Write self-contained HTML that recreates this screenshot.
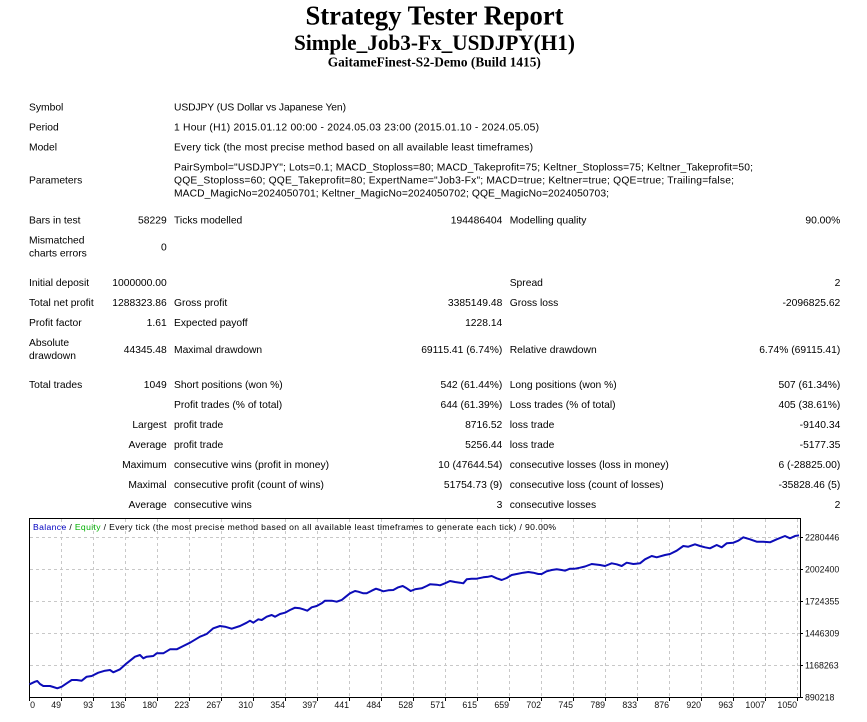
<!DOCTYPE html>
<html><head><meta charset="utf-8"><style>
html,body{margin:0;padding:0;background:#fff;}
svg{display:block;}
.t{font-family:"Liberation Sans",Arial,sans-serif;font-size:10.3px;fill:#000;}
.h{font-family:"Liberation Serif","Times New Roman",serif;font-weight:bold;fill:#000;}
.ax{font-family:"Liberation Sans",Arial,sans-serif;font-size:8.8px;fill:#111;}
</style></head><body>
<svg width="867" height="722" viewBox="0 0 867 722" xmlns="http://www.w3.org/2000/svg">
<rect width="867" height="722" fill="#fff"/>
<text class="h" x="434.5" y="24.5" font-size="27" text-anchor="middle" textLength="258" lengthAdjust="spacingAndGlyphs">Strategy Tester Report</text>
<text class="h" x="434.5" y="50" font-size="22" text-anchor="middle" textLength="281" lengthAdjust="spacingAndGlyphs">Simple_Job3-Fx_USDJPY(H1)</text>
<text class="h" x="434.3" y="66.7" font-size="13.5" text-anchor="middle" textLength="213" lengthAdjust="spacingAndGlyphs">GaitameFinest-S2-Demo (Build 1415)</text>

<g class="t">
<text x="29" y="110.5">Symbol</text>
<text x="174" y="110.5" textLength="172" lengthAdjust="spacing">USDJPY (US Dollar vs Japanese Yen)</text>
<text x="29" y="130.5">Period</text>
<text x="174" y="130.5" textLength="365" lengthAdjust="spacing">1 Hour (H1) 2015.01.12 00:00 - 2024.05.03 23:00 (2015.01.10 - 2024.05.05)</text>
<text x="29" y="150.5">Model</text>
<text x="174" y="150.5" textLength="359" lengthAdjust="spacing">Every tick (the most precise method based on all available least timeframes)</text>
<text x="29" y="183.7">Parameters</text>
<text x="174" y="170.7" textLength="579" lengthAdjust="spacing">PairSymbol="USDJPY"; Lots=0.1; MACD_Stoploss=80; MACD_Takeprofit=75; Keltner_Stoploss=75; Keltner_Takeprofit=50;</text>
<text x="174" y="183.7" textLength="560" lengthAdjust="spacing">QQE_Stoploss=60; QQE_Takeprofit=80; ExpertName="Job3-Fx"; MACD=true; Keltner=true; QQE=true; Trailing=false;</text>
<text x="174" y="196.7" textLength="435" lengthAdjust="spacing">MACD_MagicNo=2024050701; Keltner_MagicNo=2024050702; QQE_MagicNo=2024050703;</text>

<text x="29" y="223.7">Bars in test</text>
<text x="166.7" y="223.7" text-anchor="end">58229</text>
<text x="174" y="223.7">Ticks modelled</text>
<text x="502.3" y="223.7" text-anchor="end">194486404</text>
<text x="509.7" y="223.7">Modelling quality</text>
<text x="840.3" y="223.7" text-anchor="end">90.00%</text>

<text x="29" y="243.7">Mismatched</text>
<text x="29" y="256.7">charts errors</text>
<text x="166.7" y="250.4" text-anchor="end">0</text>

<text x="29" y="286">Initial deposit</text>
<text x="166.7" y="286" text-anchor="end">1000000.00</text>
<text x="509.7" y="286">Spread</text>
<text x="840.3" y="286" text-anchor="end">2</text>

<text x="29" y="305.8">Total net profit</text>
<text x="166.7" y="305.8" text-anchor="end">1288323.86</text>
<text x="174" y="305.8">Gross profit</text>
<text x="502.3" y="305.8" text-anchor="end">3385149.48</text>
<text x="509.7" y="305.8">Gross loss</text>
<text x="840.3" y="305.8" text-anchor="end">-2096825.62</text>

<text x="29" y="325.8">Profit factor</text>
<text x="166.7" y="325.8" text-anchor="end">1.61</text>
<text x="174" y="325.8">Expected payoff</text>
<text x="502.3" y="325.8" text-anchor="end">1228.14</text>

<text x="29" y="345.8">Absolute</text>
<text x="29" y="358.8">drawdown</text>
<text x="166.7" y="353" text-anchor="end">44345.48</text>
<text x="174" y="353">Maximal drawdown</text>
<text x="502.3" y="353" text-anchor="end">69115.41 (6.74%)</text>
<text x="509.7" y="353">Relative drawdown</text>
<text x="840.3" y="353" text-anchor="end">6.74% (69115.41)</text>

<text x="29" y="387.8">Total trades</text>
<text x="166.7" y="387.8" text-anchor="end">1049</text>
<text x="174" y="387.8">Short positions (won %)</text>
<text x="502.3" y="387.8" text-anchor="end">542 (61.44%)</text>
<text x="509.7" y="387.8">Long positions (won %)</text>
<text x="840.3" y="387.8" text-anchor="end">507 (61.34%)</text>

<text x="174" y="407.8">Profit trades (% of total)</text>
<text x="502.3" y="407.8" text-anchor="end">644 (61.39%)</text>
<text x="509.7" y="407.8">Loss trades (% of total)</text>
<text x="840.3" y="407.8" text-anchor="end">405 (38.61%)</text>

<text x="166.7" y="427.8" text-anchor="end">Largest</text>
<text x="174" y="427.8">profit trade</text>
<text x="502.3" y="427.8" text-anchor="end">8716.52</text>
<text x="509.7" y="427.8">loss trade</text>
<text x="840.3" y="427.8" text-anchor="end">-9140.34</text>

<text x="166.7" y="447.8" text-anchor="end">Average</text>
<text x="174" y="447.8">profit trade</text>
<text x="502.3" y="447.8" text-anchor="end">5256.44</text>
<text x="509.7" y="447.8">loss trade</text>
<text x="840.3" y="447.8" text-anchor="end">-5177.35</text>

<text x="166.7" y="467.8" text-anchor="end">Maximum</text>
<text x="174" y="467.8">consecutive wins (profit in money)</text>
<text x="502.3" y="467.8" text-anchor="end">10 (47644.54)</text>
<text x="509.7" y="467.8">consecutive losses (loss in money)</text>
<text x="840.3" y="467.8" text-anchor="end">6 (-28825.00)</text>

<text x="166.7" y="487.8" text-anchor="end">Maximal</text>
<text x="174" y="487.8">consecutive profit (count of wins)</text>
<text x="502.3" y="487.8" text-anchor="end">51754.73 (9)</text>
<text x="509.7" y="487.8">consecutive loss (count of losses)</text>
<text x="840.3" y="487.8" text-anchor="end">-35828.46 (5)</text>

<text x="166.7" y="507.8" text-anchor="end">Average</text>
<text x="174" y="507.8">consecutive wins</text>
<text x="502.3" y="507.8" text-anchor="end">3</text>
<text x="509.7" y="507.8">consecutive losses</text>
<text x="840.3" y="507.8" text-anchor="end">2</text>
</g>

<!-- chart -->
<g stroke="#c8c8c8" stroke-width="1" stroke-dasharray="3,3" fill="none">
<path d="M61.5,519V697M93.5,519V697M125.5,519V697M157.5,519V697M189.5,519V697M221.5,519V697M253.5,519V697M285.5,519V697M317.5,519V697M349.5,519V697M381.5,519V697M413.5,519V697M445.5,519V697M477.5,519V697M509.5,519V697M541.5,519V697M573.5,519V697M605.5,519V697M637.5,519V697M669.5,519V697M701.5,519V697M733.5,519V697M765.5,519V697M797.5,519V697"/>
<path d="M30,537.5H800M30,569.5H800M30,601.5H800M30,633.5H800M30,665.5H800"/>
</g>
<rect x="29.5" y="518.5" width="771" height="179" fill="none" stroke="#000" stroke-width="1"/>
<g stroke="#000" stroke-width="1">
<path d="M29.5,697V701M61.5,697V701M93.5,697V701M125.5,697V701M157.5,697V701M189.5,697V701M221.5,697V701M253.5,697V701M285.5,697V701M317.5,697V701M349.5,697V701M381.5,697V701M413.5,697V701M445.5,697V701M477.5,697V701M509.5,697V701M541.5,697V701M573.5,697V701M605.5,697V701M637.5,697V701M669.5,697V701M701.5,697V701M733.5,697V701M765.5,697V701M797.5,697V701"/>
<path d="M800,537.5H803M800,569.5H803M800,601.5H803M800,633.5H803M800,665.5H803M800,697.5H803"/>
</g>

<text x="33" y="530" style="font-family:'Liberation Sans',Arial,sans-serif;font-size:8.6px" textLength="523" lengthAdjust="spacing"><tspan fill="#0000c0">Balance</tspan><tspan fill="#000"> / </tspan><tspan fill="#00b000">Equity</tspan><tspan fill="#000"> / Every tick (the most precise method based on all available least timeframes to generate each tick) / 90.00%</tspan></text>

<path fill="none" stroke="#0c0cb8" stroke-width="2" stroke-linejoin="round" d="M29.5,684.3 L35,681.7 L37.3,681 L40,684 L43.3,686 L50,686 L53.3,687 L57.3,688.3 L61.7,686.7 L66.7,683.3 L71.7,680 L76.7,680 L81.7,680.7 L86.7,676.7 L91.7,676 L98.3,672.7 L105,670.7 L110,670 L113.3,672.3 L120,669.3 L126.7,663.3 L135,656.7 L140,655 L143.3,658.3 L146.7,656.7 L153.3,656 L156.7,653.3 L163.3,653.3 L170,649.3 L176.7,649.3 L183.3,646 L190,642.7 L200,636.7 L206.7,634 L213.3,628.3 L220,626 L225,626.7 L231.7,628.7 L240,626 L246.7,622.7 L250,620.7 L253.3,622.7 L258.3,619.3 L261.7,620 L266.7,616.7 L271.7,615 L275,616.7 L280,614 L285,612.7 L290,610 L295,607.7 L300,608.3 L303.3,609.3 L307.3,610.7 L311.7,607.3 L316.7,606 L321.7,603.3 L325,600.7 L331.7,600.7 L336.7,601.7 L341.7,600 L345,597.3 L350,593.3 L355,591 L358.3,591.7 L363.3,593.3 L366.7,593.3 L371.7,590.7 L376,588.7 L380,590 L383.3,591.3 L388.3,590.3 L393.3,590 L398.3,587.3 L402.7,586 L406.7,588.3 L410.7,591 L415,589.3 L421.7,588.3 L426.7,586 L430,584.3 L436.7,584.7 L440,585.3 L445,583.3 L450,581 L455,582 L460,582.7 L463.3,583.3 L466.7,579.3 L471.7,578.7 L476.7,578.7 L483.3,577.3 L488.3,576.7 L491.7,576 L496.7,578.3 L501.7,580 L506.7,578 L511.7,575 L516.7,574 L523.3,572.7 L528.3,572 L533.3,572.7 L538.3,574 L541.7,574 L546.7,571.3 L551.7,570 L556.7,569.3 L561.7,570 L565,570.7 L570,568.7 L575,568.7 L580,567.7 L585,566.5 L591.7,564 L600,565 L605,566 L611.7,563.3 L616.7,564.3 L621.7,566 L626.7,562.7 L633.3,564 L640,563.3 L645,559.3 L651.7,556 L656.7,557.3 L665,555 L670,554 L676.7,550.7 L683.3,546 L688.3,546.7 L695,544.3 L700,546 L705,547.3 L710,548.3 L716.7,545 L721.7,547.3 L726.7,543.3 L733.3,542.7 L738.3,540.7 L743.3,537.3 L750,539.3 L756.7,541.7 L763.3,541.7 L770,542.3 L776.7,539.3 L785,536 L790,538.3 L795,536 L799,535.3"/>

<g class="ax">
<text x="805" y="540.5">2280446</text>
<text x="805" y="572.5">2002400</text>
<text x="805" y="604.5">1724355</text>
<text x="805" y="636.5">1446309</text>
<text x="805" y="668.5">1168263</text>
<text x="805" y="700.5">890218</text>
</g>
<g class="ax" text-anchor="end">
<text x="35" y="708">0</text>
<text x="61" y="708">49</text>
<text x="93" y="708">93</text>
<text x="125" y="708">136</text>
<text x="157" y="708">180</text>
<text x="189" y="708">223</text>
<text x="221" y="708">267</text>
<text x="253" y="708">310</text>
<text x="285" y="708">354</text>
<text x="317" y="708">397</text>
<text x="349" y="708">441</text>
<text x="381" y="708">484</text>
<text x="413" y="708">528</text>
<text x="445" y="708">571</text>
<text x="477" y="708">615</text>
<text x="509" y="708">659</text>
<text x="541" y="708">702</text>
<text x="573" y="708">745</text>
<text x="605" y="708">789</text>
<text x="637" y="708">833</text>
<text x="669" y="708">876</text>
<text x="701" y="708">920</text>
<text x="733" y="708">963</text>
<text x="765" y="708">1007</text>
<text x="797" y="708">1050</text>
</g>
</svg>
</body></html>
